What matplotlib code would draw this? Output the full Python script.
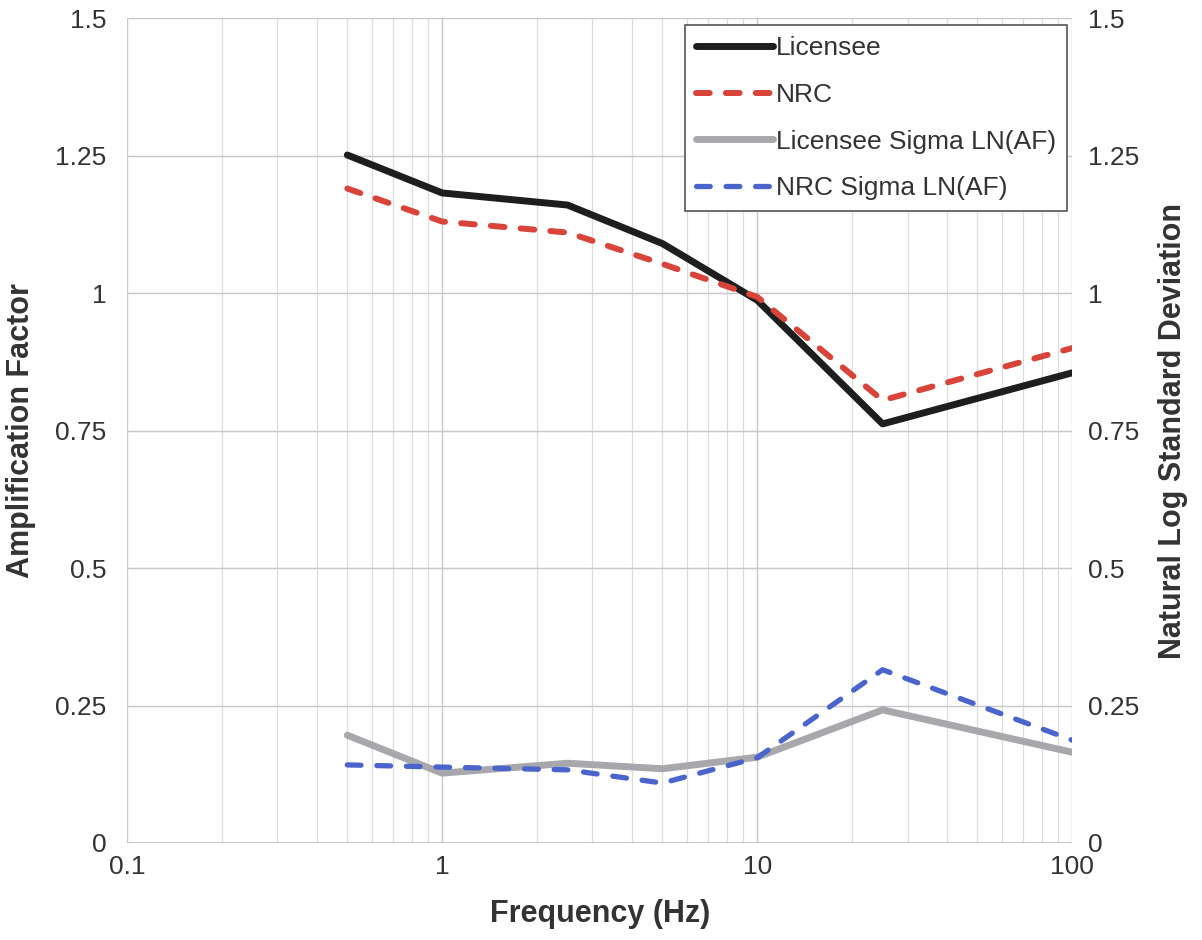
import matplotlib
matplotlib.use("Agg")
import matplotlib.pyplot as plt
from matplotlib.ticker import FixedLocator, NullFormatter, LogLocator

plt.rcParams['font.family'] = ['Liberation Sans', 'DejaVu Sans']

freq = [0.5, 1, 2.5, 5, 10, 25, 100]
licensee = [1.251, 1.182, 1.160, 1.090, 0.987, 0.762, 0.855]
nrc = [1.190, 1.130, 1.110, 1.053, 0.993, 0.805, 0.900]
lic_sigma = [0.196, 0.127, 0.145, 0.135, 0.156, 0.242, 0.165]
nrc_sigma = [0.142, 0.138, 0.133, 0.109, 0.155, 0.315, 0.187]
yticks = [0, 0.25, 0.5, 0.75, 1, 1.25, 1.5]
ytick_labels = ['0', '0.25', '0.5', '0.75', '1', '1.25', '1.5']
xticks = [0.1, 1, 10, 100]
xtick_labels = ['0.1', '1', '10', '100']

fig = plt.figure(figsize=(12.02, 9.40), dpi=100)
ax = fig.add_axes([0.1057, 0.1032, 0.7864, 0.8776])
ax.set_xscale('log')
ax.set_xlim(0.1, 100)
ax.set_ylim(0, 1.5)

ax.xaxis.set_major_locator(FixedLocator(xticks))
ax.set_xticklabels(xtick_labels)
ax.xaxis.set_minor_locator(LogLocator(base=10, subs=range(2, 10)))
ax.xaxis.set_minor_formatter(NullFormatter())
ax.set_yticks(yticks)
ax.set_yticklabels(ytick_labels)

ax.grid(True, which='major', color='#c8c8c8', lw=1.0)
ax.grid(True, which='minor', axis='x', color='#dcdcdc', lw=0.9)
for y in yticks[1:-1]:
    ax.axhline(y, color='#c9cdf0', lw=0.8, zorder=0.5)
ax.set_axisbelow(True)

for s in ax.spines.values():
    s.set_visible(False)
ax.axhline(0, color='#bdbdbd', lw=1.2, zorder=1)

ax.plot(freq, licensee, color='#1e1e1e', lw=5, solid_capstyle='round', label='Licensee', zorder=3)
ax.plot(freq, nrc, color='#d9443a', lw=4.3, dashes=(2.3, 2.7), dash_capstyle='round',
        label='NRC', zorder=4)
ax.plot(freq, lic_sigma, color='#a8a8ac', lw=5, solid_capstyle='round', label='Licensee Sigma LN(AF)', zorder=3)
ax.plot(freq, nrc_sigma, color='#4a64cc', lw=3.8, dashes=(2.6, 3.0), dash_capstyle='round',
        label='NRC Sigma LN(AF)', zorder=4)

ax.tick_params(axis='y', which='both', length=0, labelsize=19, colors='#333333', pad=15)
ax.tick_params(axis='x', which='both', length=0, labelsize=19, colors='#333333', pad=9)
ax.set_xlabel('Frequency (Hz)', fontsize=22, fontweight='bold', color='#333333', labelpad=14)
ax.set_ylabel('Amplification Factor', fontsize=22, fontweight='bold', color='#333333', labelpad=14)

ax2 = ax.twinx()
ax2.set_ylim(0, 1.5)
ax2.set_yticks(yticks)
ax2.set_yticklabels(ytick_labels)
ax2.tick_params(axis='y', length=0, labelsize=19, colors='#333333', pad=11)
for s in ax2.spines.values():
    s.set_visible(False)
ax2.set_ylabel('Natural Log Standard Deviation', fontsize=22, fontweight='bold', color='#333333', labelpad=14)

leg = ax.legend(loc='upper right', bbox_to_anchor=(0.9947, 0.9915), fontsize=19, frameon=True,
                fancybox=False, edgecolor='#555555', framealpha=1, handlelength=2.95,
                handletextpad=0.1, labelspacing=0.86, borderpad=0.42, borderaxespad=0,
                labelcolor='#333333')
leg.get_frame().set_linewidth(1.2)

fig.savefig('out.png', dpi=100)
